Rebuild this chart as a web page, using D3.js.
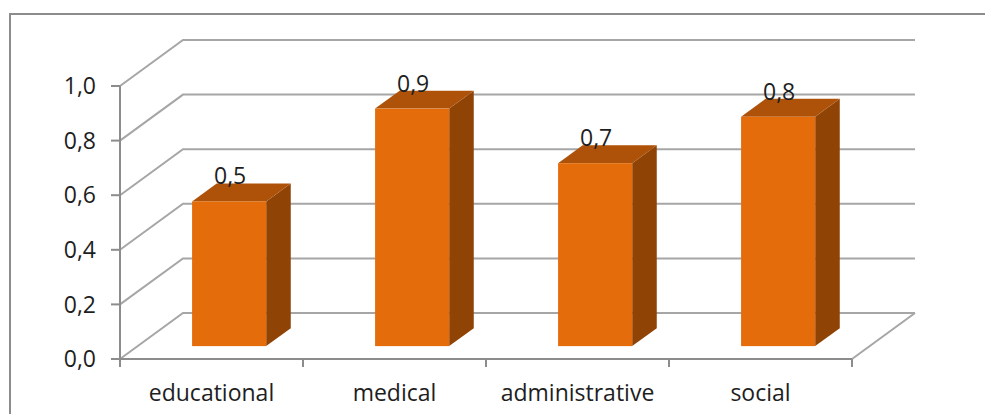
<!DOCTYPE html>
<html>
<head>
<meta charset="utf-8">
<script src="https://cdnjs.cloudflare.com/ajax/libs/d3/7.8.5/d3.min.js"></script>
<style>
  html, body { margin: 0; padding: 0; background: #fff; }
  svg { display: block; }
  text { font-family: "Open Sans", sans-serif; fill: #1e1e1e; }
</style>
</head>
<body>
<div id="chart"></div>
<script>
// chart data
const categories = ['educational', 'medical', 'administrative', 'social'];
const values = [0.53, 0.87, 0.67, 0.84];
const valueLabels = ['0,5', '0,9', '0,7', '0,8'];
const yTicks = [0, 0.2, 0.4, 0.6, 0.8, 1.0];
const yTickLabels = ['0,0', '0,2', '0,4', '0,6', '0,8', '1,0'];

const width = 985, height = 414;
const depthX = 63, depthY = -46;       // full floor depth offset
const barFront = 0.28, barDepth = 0.39; // bar position inside the depth
const fontSize = 23;
const colors = { front: '#e46c0a', top: '#ae520a', side: '#8f4406', grid: '#a6a6a6', axis: '#8c8c8c' };

const svg = d3.select('#chart').append('svg')
  .attr('width', width)
  .attr('height', height);

// outer frame
svg.append('rect')
  .attr('x', 10).attr('y', 14)
  .attr('width', 1000).attr('height', 420)
  .attr('fill', 'none')
  .attr('stroke', colors.axis)
  .attr('stroke-width', 2);

const x = d3.scaleBand().domain(categories).range([120, 852]).padding(0);
const y = d3.scaleLinear().domain([0, 1]).range([359, 86]);
const barWidth = x.bandwidth() * 0.405;

const plotRight = x.range()[1];
const grid = svg.append('g');

// walls: diagonal + back gridlines
yTicks.forEach(t => {
  grid.append('polyline')
    .attr('points', [
      [x.range()[0], y(t)],
      [x.range()[0] + depthX, y(t) + depthY],
      [plotRight + depthX, y(t) + depthY]
    ].map(p => p.join(',')).join(' '))
    .attr('fill', 'none')
    .attr('stroke', colors.grid)
    .attr('stroke-width', 2);
});

// floor right edge
grid.append('line')
  .attr('x1', plotRight).attr('y1', y(0))
  .attr('x2', plotRight + depthX).attr('y2', y(0) + depthY)
  .attr('stroke', colors.grid)
  .attr('stroke-width', 2);

// bars
const bars = svg.append('g');
categories.forEach((c, i) => {
  const cx = x(c) + x.bandwidth() / 2 + barFront * depthX;
  const base = y(0) + barFront * depthY;
  const h = y(0) - y(values[i]);
  const x0 = cx - barWidth / 2, x1 = cx + barWidth / 2;
  const yTop = base - h;
  const dx = barDepth * depthX, dy = barDepth * depthY;

  const g = bars.append('g');
  // side face
  g.append('polygon')
    .attr('points', [[x1, yTop], [x1 + dx, yTop + dy], [x1 + dx, base + dy], [x1, base]].map(p => p.join(',')).join(' '))
    .attr('fill', colors.side);
  // top face
  g.append('polygon')
    .attr('points', [[x0, yTop], [x0 + dx, yTop + dy], [x1 + dx, yTop + dy], [x1, yTop]].map(p => p.join(',')).join(' '))
    .attr('fill', colors.top);
  // front face
  g.append('rect')
    .attr('x', x0).attr('y', yTop)
    .attr('width', barWidth).attr('height', h)
    .attr('fill', colors.front);

  g.append('text')
    .attr('x', cx + 1)
    .attr('y', yTop + dy + 1)
    .attr('text-anchor', 'middle')
    .attr('font-size', fontSize)
    .text(valueLabels[i]);
});

// front axes
const axisG = svg.append('g');
axisG.append('line')
  .attr('x1', x.range()[0]).attr('y1', y(0))
  .attr('x2', plotRight).attr('y2', y(0))
  .attr('stroke', colors.axis).attr('stroke-width', 2);
axisG.append('line')
  .attr('x1', x.range()[0]).attr('y1', y(0) + 8)
  .attr('x2', x.range()[0]).attr('y2', y(1))
  .attr('stroke', colors.axis).attr('stroke-width', 2);

// y ticks + labels
yTicks.forEach((t, i) => {
  axisG.append('line')
    .attr('x1', x.range()[0] - 9).attr('y1', y(t))
    .attr('x2', x.range()[0]).attr('y2', y(t))
    .attr('stroke', colors.axis).attr('stroke-width', 2);
  axisG.append('text')
    .attr('x', 96)
    .attr('y', y(t))
    .attr('dy', '0.36em')
    .attr('text-anchor', 'end')
    .attr('font-size', fontSize)
    .text(yTickLabels[i]);
});

// x ticks at band boundaries + labels
categories.concat([null]).forEach(c => {
  const bx = c ? x(c) : plotRight;
  axisG.append('line')
    .attr('x1', bx).attr('y1', y(0))
    .attr('x2', bx).attr('y2', y(0) + 8)
    .attr('stroke', colors.axis).attr('stroke-width', 2);
});
categories.forEach(c => {
  axisG.append('text')
    .attr('x', x(c) + x.bandwidth() / 2)
    .attr('y', 401)
    .attr('text-anchor', 'middle')
    .attr('font-size', fontSize)
    .text(c);
});
</script>
</body>
</html>
